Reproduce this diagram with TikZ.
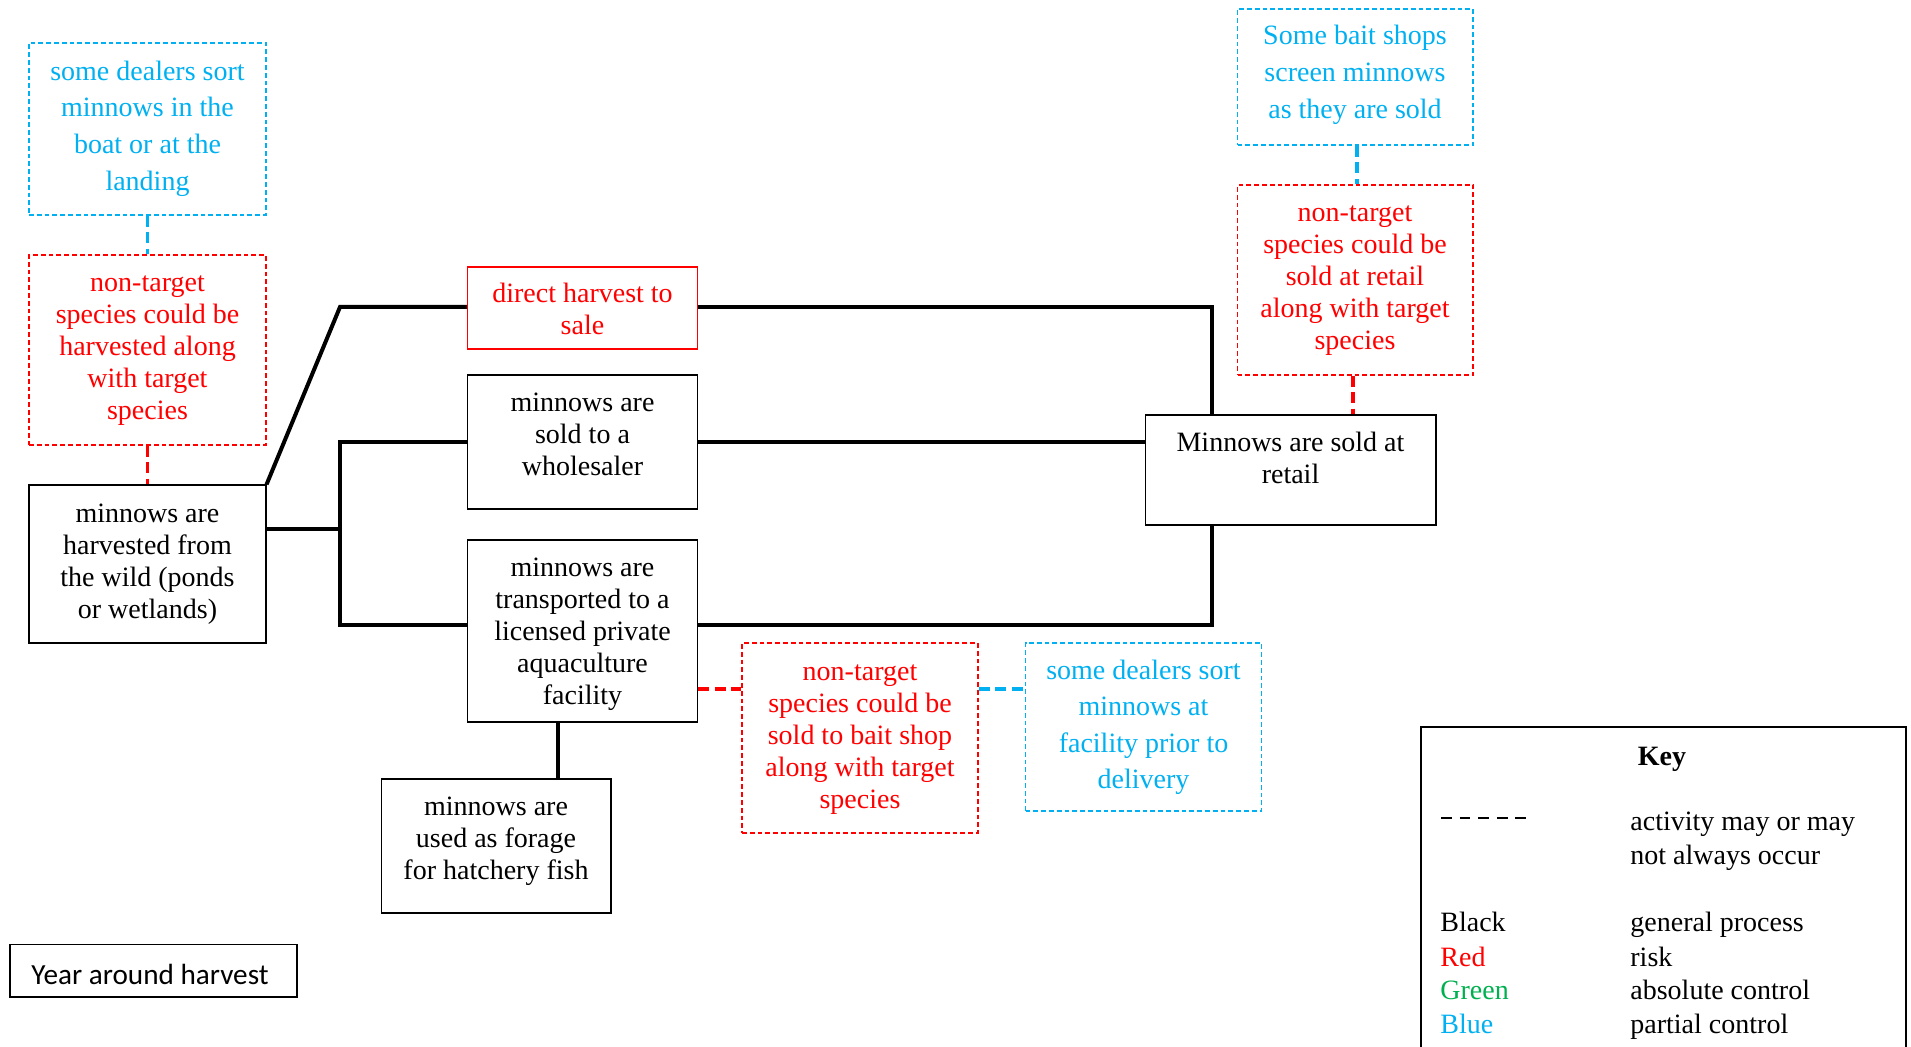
\documentclass[tikz,border=0pt]{standalone}
\usepackage{fontspec}
\setmainfont{Liberation Serif}
\newfontfamily\timesface{Liberation Serif}
\newfontfamily\calib{Carlito}
\usetikzlibrary{fit}

\definecolor{riskred}{RGB}{255,0,0}
\definecolor{ctrlblue}{RGB}{0,176,240}
\definecolor{ctrlgreen}{RGB}{0,176,80}

\tikzset{
  % process boxes
  bbox/.style={draw=black, line width=0.55pt, inner sep=0pt},
  riskbox/.style={draw=riskred, line width=0.55pt, inner sep=0pt, dash pattern=on 2.4pt off 1.5pt},
  ctrlbox/.style={draw=ctrlblue, line width=0.55pt, inner sep=0pt, dash pattern=on 2.4pt off 1.5pt},
  solidrisk/.style={draw=riskred, line width=0.55pt, inner sep=0pt},
  % texts
  txt/.style={align=center, inner sep=0pt, font=\timesface\fontsize{14}{16}\selectfont},
  risktxt/.style={txt, text=riskred},
  ctrltxt/.style={align=center, inner sep=0pt, text=ctrlblue, font=\timesface\fontsize{14}{18.3}\selectfont},
  keytxt/.style={inner sep=0pt, anchor=base west, font=\timesface\fontsize{14}{16.75}\selectfont},
  % connectors
  link/.style={draw=black, line width=2pt},
  riskdash/.style={draw=riskred, line width=1.9pt, dash pattern=on 5.5pt off 2.8pt},
  ctrldash/.style={draw=ctrlblue, line width=1.9pt, dash pattern=on 5.5pt off 2.8pt},
}

\begin{document}
\begin{tikzpicture}[x=0.5pt, y=-0.5pt]
\useasboundingbox (0,0) rectangle (1911,1047);

% ---- boxes ----
\node[ctrlbox,  fit={(29,43) (266,215)}]        (bl1) {};
\node[riskbox,  fit={(29,255) (266,445)}]       (rd1) {};
\node[bbox,     fit={(29,485) (266,643)}]       (hv)  {};
\node[solidrisk,fit={(467.5,267) (697.5,349)}]  (dh)  {};
\node[bbox,     fit={(467.5,375) (697.5,509)}]  (ws)  {};
\node[bbox,     fit={(467.5,540) (697.5,722)}]  (tp)  {};
\node[bbox,     fit={(381.5,779) (611,913)}]    (fg)  {};
\node[riskbox,  fit={(742,643) (978,833)}]      (rd2) {};
\node[ctrlbox,  fit={(1025.5,643) (1261.5,811)}](bl2) {};
\node[bbox,     fit={(1145.5,415) (1436,525)}]  (rt)  {};
\node[ctrlbox,  fit={(1237.5,9) (1473,145)}]    (bl3) {};
\node[riskbox,  fit={(1237.5,185) (1473,375)}]  (rd3) {};
\node[bbox,     fit={(10,944.5) (297,997)}]     (yr)  {};
\node[bbox,     fit={(1421,727) (1906,1070)}]   (key) {};

% ---- box texts ----
\node[ctrltxt] (bl1t) at (147.5,128.5) {some dealers sort\\minnows in the\\boat or at the\\landing};
\node[risktxt] (rd1t) at (147.5,351)   {non-target\\species could be\\harvested along\\with target\\species};
\node[txt]     (hvt)  at (147.5,564.5) {minnows are\\harvested from\\the wild (ponds\\or wetlands)};
\node[risktxt] (dht)  at (582.5,309.3) {direct harvest to\\sale};
\node[txt]     (wst)  at (582.5,434.8) {minnows are\\sold to a\\wholesaler};
\node[txt]     (tpt)  at (582.5,634.5) {minnows are\\transported to a\\licensed private\\aquaculture\\facility};
\node[txt]     (fgt)  at (496,841.7)   {minnows are\\used as forage\\for hatchery fish};
\node[risktxt] (rd2t) at (860,739.2)   {non-target\\species could be\\sold to bait shop\\along with target\\species};
\node[ctrltxt] (bl2t) at (1143.5,727.3){some dealers sort\\minnows at\\facility prior to\\delivery};
\node[txt]     (rtt)  at (1290.5,458.3){Minnows are sold at\\retail};
\node[ctrltxt] (bl3t) at (1355,74.8)   {Some bait shops\\screen minnows\\as they are sold};
\node[risktxt] (rd3t) at (1355,280.5)  {non-target\\species could be\\sold at retail\\along with target\\species};
\node[inner sep=0pt, anchor=base, font=\calib\fontsize{14.6}{17}\selectfont] (yrt) at (150,984) {Year around harvest};

% ---- process connectors ----
\coordinate (sp) at (340,307);
\coordinate (ja) at (340,529);
\coordinate (jb) at (340,625);
\coordinate (ra) at (1212,307);
\coordinate (rb) at (1212,625);
\coordinate (fx) at (558,0);

\draw[link] (hv.north east) -- (sp) -- (dh.west |- sp);
\draw[link] (hv.east |- ja) -- (ja);
\draw[link] (ws.west) -- (ws.west -| ja) -- (jb) -- (tp.west |- jb);
\draw[link] (dh.east |- ra) -- (ra) -- (ra |- rt.north);
\draw[link] (ws.east) -- (ws.east -| rt.west);
\draw[link] (tp.east |- rb) -- (rb) -- (rb |- rt.south);
\draw[link] (tp.south -| fx) -- (fg.north -| fx);

% ---- risk / control connectors ----
\coordinate (dy) at (0,689);
\coordinate (ux) at (1357,0);
\coordinate (vx) at (1353,0);
\draw[ctrldash] (bl1.south) -- (rd1.north);
\draw[riskdash] (rd1.south) -- (hv.north);
\draw[riskdash] (tp.east |- dy) -- (rd2.west |- dy);
\draw[ctrldash] (rd2.east |- dy) -- (bl2.west |- dy);
\draw[ctrldash] (bl3.south -| ux) -- (rd3.north -| ux);
\draw[riskdash] (rd3.south -| vx) -- (rt.north -| vx);

% ---- key ----
\node[inner sep=0pt, anchor=base, font=\timesface\fontsize{14}{16}\selectfont\bfseries] (keyt) at (1662,765) {Key};
\coordinate (kd1) at (1441,818);
\coordinate (kd2) at (1526,818);
\draw[line width=1pt, dash pattern=on 5.35pt off 3.95pt] (kd1) -- (kd2);
\node[keytxt] (k1) at (1630,830.5) {activity may or may};
\node[keytxt] (k2) at (1630,864)   {not always occur};
\node[keytxt] (k3) at (1440,931.5) {Black};
\node[keytxt, text=riskred]   (k4) at (1440,966)  {Red};
\node[keytxt, text=ctrlgreen] (k5) at (1440,999.5){Green};
\node[keytxt, text=ctrlblue]  (k6) at (1440,1033) {Blue};
\node[keytxt] (k7) at (1630,931.5) {general process};
\node[keytxt] (k8) at (1630,966)   {risk};
\node[keytxt] (k9) at (1630,999.5) {absolute control};
\node[keytxt] (k10) at (1630,1033) {partial control};
\end{tikzpicture}
\end{document}
